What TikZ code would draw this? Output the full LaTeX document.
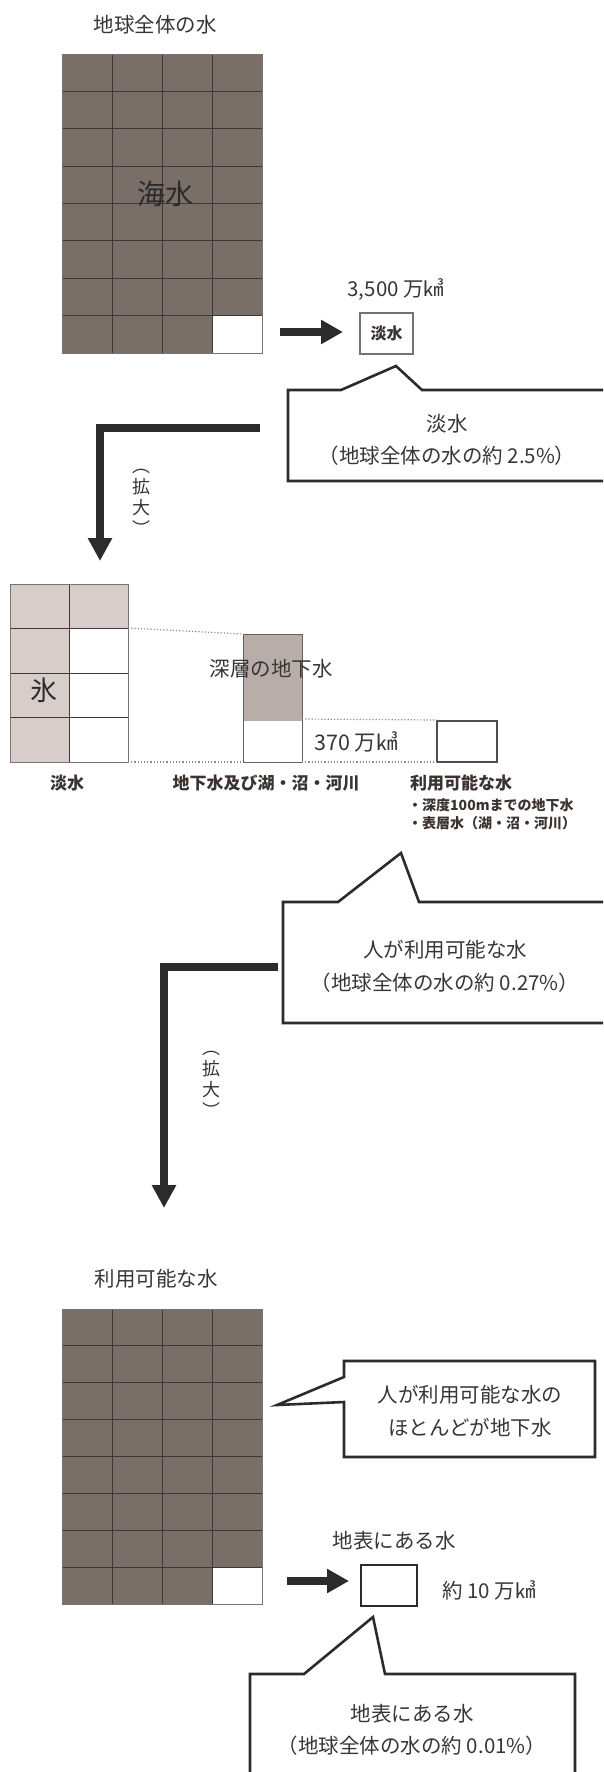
\documentclass[tikz,border=0pt]{standalone}
\usepackage{fontspec}
\setmainfont{Noto Sans CJK JP}
\usetikzlibrary{arrows.meta}
\definecolor{ink}{HTML}{2B2B2B}
\definecolor{txt}{HTML}{363636}
\definecolor{darkcell}{HTML}{7A6F68}
\definecolor{lightcell}{HTML}{D7CDCB}
\definecolor{midcell}{HTML}{B9ADAA}
\definecolor{gridline}{HTML}{403733}
\definecolor{dotline}{HTML}{9A8580}
\definecolor{lbl}{HTML}{3A3330}
\newcommand{\fmainsz}{\fontsize{20.5}{24}\selectfont}
\begin{document}
\begin{tikzpicture}[x=1pt,y=-1pt,
  maintext/.style={inner sep=0pt, text=txt, font=\fmainsz},
  boldlbl/.style={inner sep=0pt, text=lbl, font=\fontsize{17}{20}\selectfont\bfseries},
  sublbl/.style={inner sep=0pt, text=lbl, font=\fontsize{14}{17}\selectfont\bfseries, anchor=west},
  vlabel/.style={inner sep=0pt, text=txt, align=center, font=\fontsize{18}{21}\selectfont},
  gline/.style={draw=gridline, line width=0.8pt},
  gborder/.style={draw=gridline!70, line width=0.8pt},
  bigarrow/.style={draw=ink, line width=8pt, -{Triangle[length=22pt,width=23pt]}},
  elbow/.style={draw=ink, line width=7.5pt, line join=miter, -{Triangle[length=23pt,width=23pt]}},
  callout/.style={draw=ink, line width=2.6pt, line join=miter},
  dotl/.style={draw=dotline, line width=1.2pt, dotted}
]
\useasboundingbox (0,0) rectangle (603,1772);
\clip (0,0) rectangle (603,1772);

% ---------- section 1 ----------
\node[maintext] (title1) at (155,25) {地球全体の水};
\fill[darkcell] (62,54) rectangle (262,353);
\fill[white] (212,315.6) rectangle (262,353);
\foreach \i in {1,2,3} \draw[gline] ({62+50*\i},54) -- ({62+50*\i},353);
\foreach \j in {1,...,7} \draw[gline] (62,{54+37.375*\j}) -- (262,{54+37.375*\j});
\draw[gborder] (62,54) rectangle (262,353);
\node[inner sep=0pt, text=ink, font=\fontsize{28}{32}\selectfont] (kaisui) at (165,194) {海水};

\coordinate (a1s) at (280,332);
\coordinate (a1e) at (343,332);
\draw[bigarrow] (a1s) -- (a1e);
\node[draw=black!55, line width=1.2pt, minimum width=53pt, minimum height=41pt, inner sep=0pt,
      text=lbl, font=\fontsize{16}{18}\selectfont\bfseries] (tansuibox) at (386.5,333.5) {淡水};
\node[maintext] (vol1) at (396,290) {3,500 万㎦};

% callout 1
\draw[callout] (610,390) -- (422,390) -- (396,366) -- (341,390) -- (288,390) -- (288,481) -- (610,481);
\node[maintext] (c1a) at (447,424) {淡水};
\node[maintext] (c1b) at (447,456) {（地球全体の水の約 2.5\%）};

% elbow arrow 1
\coordinate (e1s) at (260,428);
\coordinate (e1c) at (100,428);
\coordinate (e1e) at (100,561);
\draw[elbow] (e1s) -- (e1c) -- (e1e);
\node[vlabel] (kakudai1) at (141,502) {︵\\拡\\大\\︶};

% ---------- section 2 ----------
\fill[lightcell] (10,584) rectangle (128,628);
\fill[lightcell] (10,584) rectangle (69,762);
\draw[gline] (69,584) -- (69,762);
\draw[gline] (10,628) -- (128,628);
\draw[gline] (10,673) -- (128,673);
\draw[gline] (10,717) -- (128,717);
\draw[gborder] (10,584) rectangle (128,762);
\node[inner sep=0pt, text=ink, font=\fontsize{27}{30}\selectfont] (koori) at (44,690) {氷};

\fill[midcell] (243,634) rectangle (302,721);
\draw[draw=gridline!80, line width=1pt] (243,634) rectangle (302,762);
\node[maintext] (shinso) at (271,669) {深層の地下水};

\draw[draw=gridline!90, line width=1.2pt] (437,721) rectangle (497,762);
\node[inner sep=0pt, text=txt, font=\fontsize{21.5}{24}\selectfont] (vol2) at (356,742) {370 万㎦};

\coordinate (g1tr) at (128,628);
\coordinate (g1br) at (128,762);
\coordinate (g2tl) at (243,634);
\coordinate (g2bl) at (243,762);
\coordinate (g2mr) at (302,719);
\coordinate (g2br) at (302,762);
\coordinate (g3tl) at (437,720);
\coordinate (g3bl) at (437,762);
\draw[dotl] (g1tr) -- (g2tl);
\draw[dotl] (g1br) -- (g2bl);
\draw[dotl] (g2mr) -- (g3tl);
\draw[dotl] (g2br) -- (g3bl);

\node[boldlbl] (l1) at (67,783) {淡水};
\node[boldlbl] (l2) at (266,783) {地下水及び湖・沼・河川};
\node[boldlbl, anchor=west] (l3) at (410,783) {利用可能な水};
\node[sublbl] (l4) at (408,805) {・深度100mまでの地下水};
\node[sublbl] (l5) at (408,823) {・表層水（湖・沼・河川）};

% callout 2
\draw[callout] (610,902) -- (419,902) -- (401,853) -- (338,902) -- (283,902) -- (283,1023) -- (610,1023);
\node[maintext] (c2a) at (445,950) {人が利用可能な水};
\node[maintext] (c2b) at (445,983) {（地球全体の水の約 0.27\%）};

% elbow arrow 2
\coordinate (e2s) at (278,967);
\coordinate (e2c) at (164,967);
\coordinate (e2e) at (164,1208);
\draw[elbow] (e2s) -- (e2c) -- (e2e);
\node[vlabel] (kakudai2) at (211,1084) {︵\\拡\\大\\︶};

% ---------- section 3 ----------
\node[maintext] (title2) at (156,1279) {利用可能な水};
\fill[darkcell] (62,1309) rectangle (262,1604);
\fill[white] (212,1567.1) rectangle (262,1604);
\foreach \i in {1,2,3} \draw[gline] ({62+50*\i},1309) -- ({62+50*\i},1604);
\foreach \j in {1,...,7} \draw[gline] (62,{1309+36.875*\j}) -- (262,{1309+36.875*\j});
\draw[gborder] (62,1309) rectangle (262,1604);

% callout 3
\draw[callout] (344,1377) -- (344,1361) -- (595,1361) -- (595,1457) -- (344,1457) -- (344,1402) -- (277,1405) -- cycle;
\node[maintext] (c3a) at (470,1395) {人が利用可能な水の};
\node[maintext] (c3b) at (470,1428) {ほとんどが地下水};

\node[maintext] (chihyo) at (394,1541) {地表にある水};
\coordinate (a2s) at (287,1581);
\coordinate (a2e) at (349,1581);
\draw[bigarrow] (a2s) -- (a2e);
\node[draw=ink, line width=2.8pt, minimum width=56pt, minimum height=41pt, inner sep=0pt] (surfbox) at (389,1585.5) {};
\node[maintext] (vol3) at (489,1590) {約 10 万㎦};

% callout 4
\draw[callout] (250,1790) -- (250,1674) -- (304,1674) -- (373,1617) -- (385,1674) -- (575,1674) -- (575,1790);
\node[maintext] (c4a) at (412,1714) {地表にある水};
\node[maintext] (c4b) at (412,1746) {（地球全体の水の約 0.01\%）};
\end{tikzpicture}
\end{document}
